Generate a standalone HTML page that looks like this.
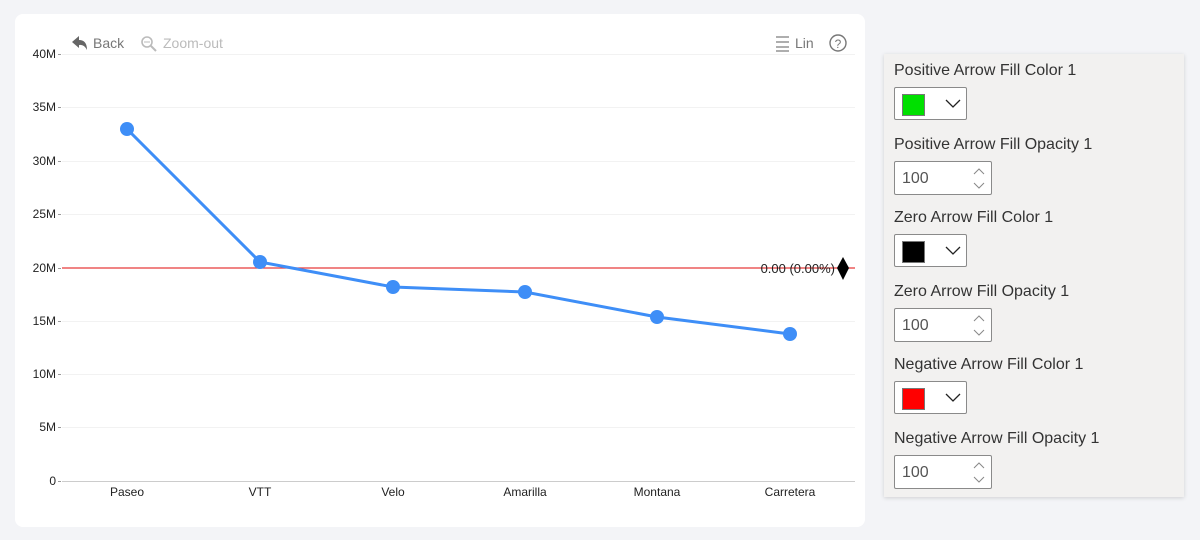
<!DOCTYPE html>
<html><head><style>
body{margin:0;width:1200px;height:540px;background:#f3f4f7;position:relative;font-family:"Liberation Sans",sans-serif;overflow:hidden}
.card{position:absolute;left:15px;top:14px;width:850px;height:513px;background:#fff;border-radius:8px}
.panel{position:absolute;left:884px;top:54px;width:300px;height:443px;background:#f2f1f0;box-shadow:0 1px 4px rgba(0,0,0,.15)}
.lbl{position:absolute;left:10px;font-size:16px;color:#333}
.cb{position:absolute;left:10px;width:73px;height:33px;border:1px solid #8a8a8a;border-radius:2px;background:#fff;box-sizing:border-box}
.cb .sw{position:absolute;left:7px;top:6px;width:21px;height:20px;border:1px solid #777}
.sb{position:absolute;left:10px;width:98px;height:34px;border:1px solid #8a8a8a;border-radius:2px;background:#fff;box-sizing:border-box;font-size:16px;color:#555;padding:8px 0 0 7px}
.sb svg{position:absolute;right:6px;top:6px}
</style></head><body>
<div class="card"></div>
<svg style="position:absolute;left:0;top:0" width="870" height="540" font-family="Liberation Sans, sans-serif">
<g stroke="#f2f2f2" stroke-width="1">
<line x1="62" x2="855" y1="54.5" y2="54.5"/><line x1="62" x2="855" y1="107.5" y2="107.5"/><line x1="62" x2="855" y1="161.5" y2="161.5"/><line x1="62" x2="855" y1="214.5" y2="214.5"/><line x1="62" x2="855" y1="321.5" y2="321.5"/><line x1="62" x2="855" y1="374.5" y2="374.5"/><line x1="62" x2="855" y1="427.5" y2="427.5"/>
</g>
<g stroke="#999"><line x1="58" x2="61" y1="54.5" y2="54.5"/><line x1="58" x2="61" y1="107.5" y2="107.5"/><line x1="58" x2="61" y1="161.5" y2="161.5"/><line x1="58" x2="61" y1="214.5" y2="214.5"/><line x1="58" x2="61" y1="268.5" y2="268.5"/><line x1="58" x2="61" y1="321.5" y2="321.5"/><line x1="58" x2="61" y1="374.5" y2="374.5"/><line x1="58" x2="61" y1="427.5" y2="427.5"/><line x1="58" x2="61" y1="481.5" y2="481.5"/></g>
<line x1="62" x2="855" y1="481.5" y2="481.5" stroke="#ccc"/>
<g font-size="12" fill="#222" text-anchor="end">
<text x="56" y="58">40M</text><text x="56" y="111">35M</text><text x="56" y="165">30M</text><text x="56" y="218">25M</text><text x="56" y="272">20M</text><text x="56" y="325">15M</text><text x="56" y="378">10M</text><text x="56" y="431">5M</text><text x="56" y="485">0</text>
</g>
<g font-size="12" fill="#222" text-anchor="middle">
<text x="127" y="496">Paseo</text><text x="260" y="496">VTT</text><text x="393" y="496">Velo</text><text x="525" y="496">Amarilla</text><text x="657" y="496">Montana</text><text x="790" y="496">Carretera</text>
</g>
<line x1="62" x2="855" y1="268" y2="268" stroke="#e83a3a" stroke-width="1.2"/>
<text x="835" y="273" font-size="13" fill="#222" text-anchor="end">0.00 (0.00%)</text>
<polygon points="843,257 849,268 843,280 837,268" fill="#000"/>
<polyline points="127,129 260,262 393,287 525,292 657,317 790,334" fill="none" stroke="#3e8ef7" stroke-width="3"/>
<g fill="#3e8ef7"><circle cx="127" cy="129" r="7"/><circle cx="260" cy="262" r="7"/><circle cx="393" cy="287" r="7"/><circle cx="525" cy="292" r="7"/><circle cx="657" cy="317" r="7"/><circle cx="790" cy="334" r="7"/></g>
<path d="M72 42 L79 36 L79 40 Q87 40 87 50 Q84 44 79 45 L79 48 Z" fill="#666"/>
<text x="93" y="48" font-size="14" fill="#777">Back</text>
<circle cx="147" cy="42" r="5" fill="none" stroke="#bbb" stroke-width="1.6"/><line x1="151" y1="46" x2="156" y2="51" stroke="#bbb" stroke-width="2"/><line x1="144" y1="42" x2="150" y2="42" stroke="#bbb"/>
<text x="163" y="48" font-size="14" fill="#bbb">Zoom-out</text>
<g stroke="#777" stroke-width="1.2"><line x1="776" x2="789" y1="37" y2="37"/><line x1="776" x2="789" y1="42" y2="42"/><line x1="776" x2="789" y1="47" y2="47"/><line x1="776" x2="789" y1="51" y2="51"/></g>
<text x="795" y="48" font-size="14" fill="#777">Lin</text>
<circle cx="838" cy="43" r="8" fill="none" stroke="#777" stroke-width="1.4"/><text x="838" y="48" font-size="12" fill="#777" text-anchor="middle">?</text>
</svg>
<div class="panel">
<div class="lbl" style="top:8px">Positive Arrow Fill Color 1</div>
<div class="cb" style="top:33px"><div class="sw" style="background:#00e000"></div><svg style="position:absolute;left:50px;top:11px" width="16" height="10"><polyline points="1,1 8,8 15,1" fill="none" stroke="#222" stroke-width="1.3"/></svg></div>
<div class="lbl" style="top:82px">Positive Arrow Fill Opacity 1</div>
<div class="sb" style="top:107px">100<svg width="12" height="22"><polyline points="1,6 6,1 11,6" fill="none" stroke="#888"/><polyline points="1,15 6,20 11,15" fill="none" stroke="#888"/></svg></div>
<div class="lbl" style="top:155px">Zero Arrow Fill Color 1</div>
<div class="cb" style="top:180px"><div class="sw" style="background:#000"></div><svg style="position:absolute;left:50px;top:11px" width="16" height="10"><polyline points="1,1 8,8 15,1" fill="none" stroke="#222" stroke-width="1.3"/></svg></div>
<div class="lbl" style="top:229px">Zero Arrow Fill Opacity 1</div>
<div class="sb" style="top:254px">100<svg width="12" height="22"><polyline points="1,6 6,1 11,6" fill="none" stroke="#888"/><polyline points="1,15 6,20 11,15" fill="none" stroke="#888"/></svg></div>
<div class="lbl" style="top:302px">Negative Arrow Fill Color 1</div>
<div class="cb" style="top:327px"><div class="sw" style="background:#f00"></div><svg style="position:absolute;left:50px;top:11px" width="16" height="10"><polyline points="1,1 8,8 15,1" fill="none" stroke="#222" stroke-width="1.3"/></svg></div>
<div class="lbl" style="top:376px">Negative Arrow Fill Opacity 1</div>
<div class="sb" style="top:401px">100<svg width="12" height="22"><polyline points="1,6 6,1 11,6" fill="none" stroke="#888"/><polyline points="1,15 6,20 11,15" fill="none" stroke="#888"/></svg></div>
</div>
</body></html>
